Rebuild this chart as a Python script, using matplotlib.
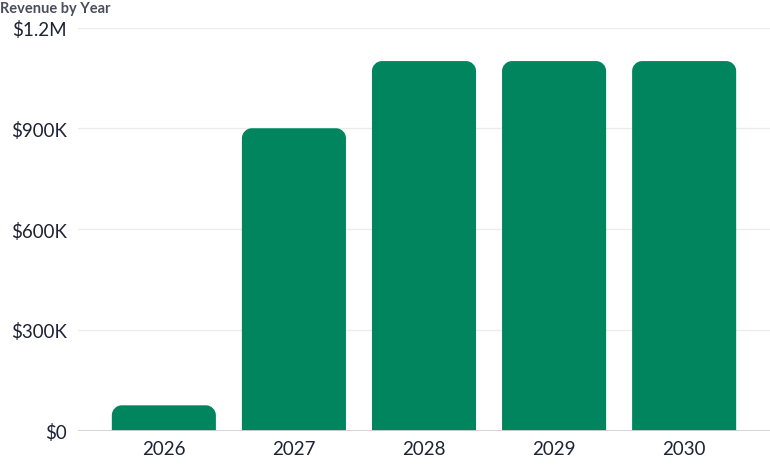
import matplotlib
matplotlib.use("Agg")
import matplotlib.pyplot as plt
from matplotlib.path import Path
from matplotlib.patches import PathPatch

years = ["2026", "2027", "2028", "2029", "2030"]
revenue = [75000, 900000, 1100000, 1100000, 1100000]
yticks = [0, 300000, 600000, 900000, 1200000]
ytick_labels = ["$0", "$300K", "$600K", "$900K", "$1.2M"]

W, H, DPI = 7.7, 4.77, 100
plt.rcParams['font.family'] = ['Lato', 'DejaVu Sans']
fig = plt.figure(figsize=(W, H), dpi=DPI)
bottom_px, top_px = 45.5, 28.5
ax = fig.add_axes([78/770, bottom_px/477, 1 - 78/770, (477 - bottom_px - top_px)/477])

xlim = (-0.66, 4.66)
ylim = (0, 1200000)
ax.set_xlim(*xlim)
ax.set_ylim(*ylim)

bar_w = 0.8
color = "#00855F"
ax_w_px = W*DPI*(1 - 78/770)
ax_h_px = 477 - bottom_px - top_px
rpx = 10
rx = rpx * (xlim[1]-xlim[0]) / ax_w_px
k = 0.5523
for i, v in enumerate(revenue):
    x0, x1 = i - bar_w/2, i + bar_w/2
    ry = rpx * (ylim[1]-ylim[0]) / ax_h_px
    ry = min(ry, v)
    verts = [
        (x0, 0), (x0, v-ry),
        (x0, v-ry+k*ry), (x0+rx-k*rx, v), (x0+rx, v),
        (x1-rx, v),
        (x1-rx+k*rx, v), (x1, v-ry+k*ry), (x1, v-ry),
        (x1, 0), (x0, 0)]
    codes = [Path.MOVETO, Path.LINETO,
             Path.CURVE4, Path.CURVE4, Path.CURVE4,
             Path.LINETO,
             Path.CURVE4, Path.CURVE4, Path.CURVE4,
             Path.LINETO, Path.CLOSEPOLY]
    ax.add_patch(PathPatch(Path(verts, codes), facecolor=color, edgecolor="none", zorder=3))

ax.set_xticks(range(len(years)))
ax.set_xticklabels(years)
ax.set_yticks(yticks)
ax.set_yticklabels(ytick_labels)
for s in ax.spines.values():
    s.set_visible(False)
ax.grid(axis="y", color="#ebebeb", linewidth=1, zorder=0)
ax.axhline(0, color="#cfcfcf", linewidth=1.2, zorder=4)
ax.tick_params(axis="both", length=0, labelsize=13.5, colors="#1e2235")
ax.tick_params(axis="y", pad=8)
ax.tick_params(axis="x", pad=7)

fig.text(0.0, 1 - 9/477, "Revenue by Year", fontsize=10.5, fontweight="bold",
         color="#4b4d5c", ha="left", va="center")

fig.savefig("out.png", dpi=DPI)
